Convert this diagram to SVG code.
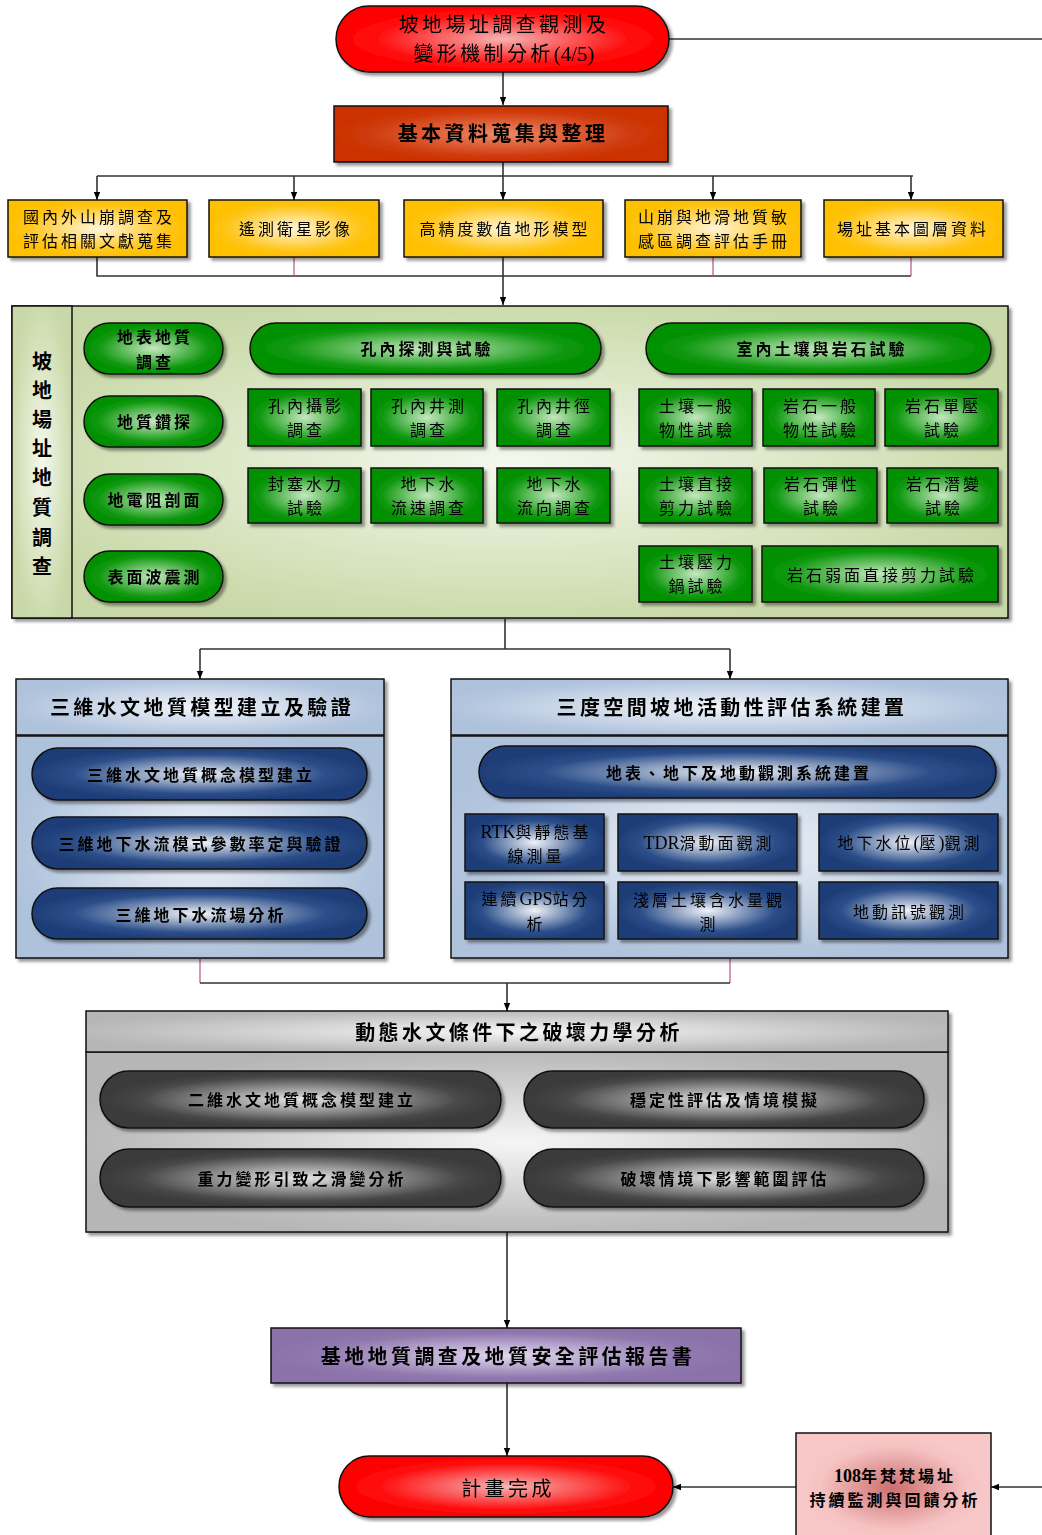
<svg xmlns="http://www.w3.org/2000/svg" width="1042" height="1535" viewBox="0 0 1042 1535">
<defs>
<filter id="sh" x="-10%" y="-10%" width="130%" height="140%"><feDropShadow dx="3" dy="3" stdDeviation="1.5" flood-color="#000" flood-opacity="0.4"/></filter>
<radialGradient id="gRed" cx="50%" cy="50%" r="50%"><stop offset="0" stop-color="#F6B4B4"/><stop offset="0.75" stop-color="#FF1010"/><stop offset="1" stop-color="#FF0000"/></radialGradient>
<radialGradient id="gOrange" cx="50%" cy="50%" r="50%"><stop offset="0" stop-color="#EE8A68"/><stop offset="0.8" stop-color="#CF3A0C"/><stop offset="1" stop-color="#CC3300"/></radialGradient>
<radialGradient id="gYellow" cx="50%" cy="50%" r="50%"><stop offset="0" stop-color="#FFF6DC"/><stop offset="0.8" stop-color="#FFC416"/><stop offset="1" stop-color="#FFC000"/></radialGradient>
<radialGradient id="gPanel" cx="50%" cy="50%" r="55%"><stop offset="0" stop-color="#F4F8EE"/><stop offset="0.85" stop-color="#CEDDB0"/><stop offset="1" stop-color="#C9D8A8"/></radialGradient>
<radialGradient id="gGreen" cx="50%" cy="50%" r="50%"><stop offset="0" stop-color="#C6E8C0"/><stop offset="0.8" stop-color="#0E980E"/><stop offset="1" stop-color="#009000"/></radialGradient>
<radialGradient id="gBluePanel" cx="50%" cy="50%" r="55%"><stop offset="0" stop-color="#F2F5FA"/><stop offset="0.85" stop-color="#B4C6DE"/><stop offset="1" stop-color="#AFC2DC"/></radialGradient>
<radialGradient id="gNavy" cx="50%" cy="50%" r="50%"><stop offset="0" stop-color="#F0F3F8"/><stop offset="0.75" stop-color="#2C4F8A"/><stop offset="1" stop-color="#1F3E78"/></radialGradient>
<radialGradient id="gGreyPanel" cx="50%" cy="50%" r="55%"><stop offset="0" stop-color="#F6F6F6"/><stop offset="0.85" stop-color="#BDBDBD"/><stop offset="1" stop-color="#B6B6B6"/></radialGradient>
<radialGradient id="gDark" cx="50%" cy="50%" r="50%"><stop offset="0" stop-color="#E6E6E6"/><stop offset="0.8" stop-color="#474747"/><stop offset="1" stop-color="#3A3A3A"/></radialGradient>
<radialGradient id="gPurple" cx="50%" cy="50%" r="50%"><stop offset="0" stop-color="#E2D8EE"/><stop offset="0.8" stop-color="#9079AE"/><stop offset="1" stop-color="#8B73AA"/></radialGradient>
<radialGradient id="gPink" cx="50%" cy="50%" r="50%"><stop offset="0" stop-color="#CC6E6E"/><stop offset="0.75" stop-color="#F6C2C2"/><stop offset="1" stop-color="#F8C8C8"/></radialGradient>
<marker id="arr" viewBox="0 0 10 8" refX="10" refY="4" markerWidth="8" markerHeight="9" markerUnits="userSpaceOnUse" orient="auto"><path d="M0,0 L10,4 L0,8 z" fill="#000"/></marker>
</defs>
<style>
text{font-family:"Liberation Serif","Noto Sans CJK TC",serif;fill:#000;text-anchor:middle;dominant-baseline:central}
.t16{font-size:16px;letter-spacing:3px}
.b16{font-size:16px;letter-spacing:3px;font-weight:bold}
.t20{font-size:20px;letter-spacing:3.4px}
.b20{font-size:20px;letter-spacing:3.4px;font-weight:bold}
.bv{font-size:20px;font-weight:bold}
.L{letter-spacing:0;font-size:18px}
.L20{letter-spacing:0;font-size:21px}
.n{stroke:#111;stroke-width:1.5}
.c{fill:none;stroke:#333;stroke-width:1.6}
.m{fill:none;stroke:#B8508A;stroke-width:1.2}
</style>
<rect width="1042" height="1535" fill="#fff"/>

<g id="connectors">
<path class="c" d="M669,39 H1042"/>
<path class="c" d="M503,72 V105" marker-end="url(#arr)"/>
<path class="c" d="M503,162 V176 M97,176 H913"/>
<path class="c" d="M97,176 V200" marker-end="url(#arr)"/>
<path class="c" d="M294,176 V200" marker-end="url(#arr)"/>
<path class="c" d="M503,176 V200" marker-end="url(#arr)"/>
<path class="c" d="M713,176 V200" marker-end="url(#arr)"/>
<path class="c" d="M911,176 V200" marker-end="url(#arr)"/>
<path class="c" d="M97,257 V276 H911 M503,257 V276"/>
<path class="m" d="M294,257 V276 M713,257 V276 M911,257 V276"/>
<path class="c" d="M503,276 V305" marker-end="url(#arr)"/>
<path class="c" d="M505,619 V649 H730 M505,649 H200"/>
<path class="c" d="M200,649 V679" marker-end="url(#arr)"/>
<path class="c" d="M730,649 V679" marker-end="url(#arr)"/>
<path class="m" d="M200,959 V983 M730,959 V983"/>
<path class="c" d="M200,983 H730"/>
<path class="c" d="M507,983 V1011" marker-end="url(#arr)"/>
<path class="c" d="M507,1232 V1328" marker-end="url(#arr)"/>
<path class="c" d="M507,1383 V1456" marker-end="url(#arr)"/>
<path class="c" d="M796,1487 H673" marker-end="url(#arr)"/>
<path class="c" d="M1042,1487 H991" marker-end="url(#arr)"/>
</g>

<g id="n-start" filter="url(#sh)">
<rect class="n" x="336" y="6" width="333" height="66" rx="33" fill="url(#gRed)"/>
<text class="t20" x="504" y="25">坡地場址調查觀測及</text>
<text class="t20" x="504" y="54">變形機制分析<tspan class="L20">(4/5)</tspan></text>
</g>

<g id="n-basic" filter="url(#sh)">
<rect class="n" x="334" y="106" width="334" height="56" fill="url(#gOrange)"/>
<text class="b20" x="503" y="134">基本資料蒐集與整理</text>
</g>

<g id="n-y1" filter="url(#sh)">
<rect class="n" x="8" y="200" width="179" height="57" fill="url(#gYellow)"/>
<text class="t16" x="99" y="217">國內外山崩調查及</text>
<text class="t16" x="99" y="241">評估相關文獻蒐集</text>
</g>
<g id="n-y2" filter="url(#sh)">
<rect class="n" x="209" y="200" width="170" height="57" fill="url(#gYellow)"/>
<text class="t16" x="296" y="229">遙測衛星影像</text>
</g>
<g id="n-y3" filter="url(#sh)">
<rect class="n" x="404" y="200" width="199" height="57" fill="url(#gYellow)"/>
<text class="t16" x="505" y="229">高精度數值地形模型</text>
</g>
<g id="n-y4" filter="url(#sh)">
<rect class="n" x="625" y="200" width="176" height="57" fill="url(#gYellow)"/>
<text class="t16" x="714" y="217">山崩與地滑地質敏</text>
<text class="t16" x="714" y="241">感區調查評估手冊</text>
</g>
<g id="n-y5" filter="url(#sh)">
<rect class="n" x="824" y="200" width="179" height="57" fill="url(#gYellow)"/>
<text class="t16" x="913" y="229">場址基本圖層資料</text>
</g>

<g id="n-geo-panel">
<rect class="n" x="12" y="306" width="996" height="312" fill="url(#gPanel)" filter="url(#sh)"/>
<rect class="n" x="12" y="306" width="60" height="312" fill="url(#gPanel)"/>
<text class="bv" x="42" y="362">坡</text>
<text class="bv" x="42" y="391">地</text>
<text class="bv" x="42" y="420">場</text>
<text class="bv" x="42" y="449">址</text>
<text class="bv" x="42" y="478">地</text>
<text class="bv" x="42" y="508">質</text>
<text class="bv" x="42" y="538">調</text>
<text class="bv" x="42" y="567">查</text>
</g>

<g id="n-gp1" filter="url(#sh)">
<rect class="n" x="84" y="323" width="139" height="51" rx="25.5" fill="url(#gGreen)"/>
<text class="b16" x="155" y="337">地表地質</text>
<text class="b16" x="155" y="362">調查</text>
</g>
<g id="n-gp2" filter="url(#sh)">
<rect class="n" x="84" y="396" width="139" height="51" rx="25.5" fill="url(#gGreen)"/>
<text class="b16" x="155" y="422">地質鑽探</text>
</g>
<g id="n-gp3" filter="url(#sh)">
<rect class="n" x="84" y="474" width="139" height="51" rx="25.5" fill="url(#gGreen)"/>
<text class="b16" x="155" y="500">地電阻剖面</text>
</g>
<g id="n-gp4" filter="url(#sh)">
<rect class="n" x="84" y="551" width="139" height="51" rx="25.5" fill="url(#gGreen)"/>
<text class="b16" x="155" y="577">表面波震測</text>
</g>
<g id="n-gp5" filter="url(#sh)">
<rect class="n" x="250" y="323" width="351" height="51" rx="25.5" fill="url(#gGreen)"/>
<text class="b16" x="427" y="349">孔內探測與試驗</text>
</g>
<g id="n-gp6" filter="url(#sh)">
<rect class="n" x="646" y="323" width="345" height="51" rx="25.5" fill="url(#gGreen)"/>
<text class="b16" x="822" y="349">室內土壤與岩石試驗</text>
</g>

<g id="n-g1" filter="url(#sh)"><rect class="n" x="248" y="389" width="113" height="57" fill="url(#gGreen)"/><text class="t16" x="306" y="406">孔內攝影</text><text class="t16" x="306" y="430">調查</text></g>
<g id="n-g2" filter="url(#sh)"><rect class="n" x="371" y="389" width="112" height="57" fill="url(#gGreen)"/><text class="t16" x="429" y="406">孔內井測</text><text class="t16" x="429" y="430">調查</text></g>
<g id="n-g3" filter="url(#sh)"><rect class="n" x="497" y="389" width="113" height="57" fill="url(#gGreen)"/><text class="t16" x="555" y="406">孔內井徑</text><text class="t16" x="555" y="430">調查</text></g>
<g id="n-g4" filter="url(#sh)"><rect class="n" x="639" y="389" width="113" height="57" fill="url(#gGreen)"/><text class="t16" x="697" y="406">土壤一般</text><text class="t16" x="697" y="430">物性試驗</text></g>
<g id="n-g5" filter="url(#sh)"><rect class="n" x="763" y="389" width="112" height="57" fill="url(#gGreen)"/><text class="t16" x="821" y="406">岩石一般</text><text class="t16" x="821" y="430">物性試驗</text></g>
<g id="n-g6" filter="url(#sh)"><rect class="n" x="885" y="389" width="113" height="57" fill="url(#gGreen)"/><text class="t16" x="943" y="406">岩石單壓</text><text class="t16" x="943" y="430">試驗</text></g>
<g id="n-g7" filter="url(#sh)"><rect class="n" x="248" y="468" width="113" height="55" fill="url(#gGreen)"/><text class="t16" x="306" y="484">封塞水力</text><text class="t16" x="306" y="508">試驗</text></g>
<g id="n-g8" filter="url(#sh)"><rect class="n" x="371" y="468" width="112" height="55" fill="url(#gGreen)"/><text class="t16" x="429" y="484">地下水</text><text class="t16" x="429" y="508">流速調查</text></g>
<g id="n-g9" filter="url(#sh)"><rect class="n" x="497" y="468" width="113" height="55" fill="url(#gGreen)"/><text class="t16" x="555" y="484">地下水</text><text class="t16" x="555" y="508">流向調查</text></g>
<g id="n-g10" filter="url(#sh)"><rect class="n" x="639" y="468" width="113" height="55" fill="url(#gGreen)"/><text class="t16" x="697" y="484">土壤直接</text><text class="t16" x="697" y="508">剪力試驗</text></g>
<g id="n-g11" filter="url(#sh)"><rect class="n" x="764" y="468" width="113" height="55" fill="url(#gGreen)"/><text class="t16" x="822" y="484">岩石彈性</text><text class="t16" x="822" y="508">試驗</text></g>
<g id="n-g12" filter="url(#sh)"><rect class="n" x="887" y="468" width="111" height="55" fill="url(#gGreen)"/><text class="t16" x="944" y="484">岩石潛變</text><text class="t16" x="944" y="508">試驗</text></g>
<g id="n-g13" filter="url(#sh)"><rect class="n" x="639" y="546" width="113" height="56" fill="url(#gGreen)"/><text class="t16" x="697" y="562">土壤壓力</text><text class="t16" x="697" y="586">鍋試驗</text></g>
<g id="n-g14" filter="url(#sh)"><rect class="n" x="762" y="546" width="236" height="56" fill="url(#gGreen)"/><text class="t16" x="882" y="575">岩石弱面直接剪力試驗</text></g>

<g id="n-3d-panel" filter="url(#sh)">
<rect class="n" x="16" y="736" width="368" height="222" fill="url(#gBluePanel)"/>
<rect class="n" x="16" y="679" width="368" height="56" fill="url(#gBluePanel)"/>
<text class="b20" x="202" y="708">三維水文地質模型建立及驗證</text>
</g>
<g id="n-bp1" filter="url(#sh)"><rect class="n" x="32" y="748" width="335" height="52" rx="26" fill="url(#gNavy)"/><text class="b16" x="201" y="775">三維水文地質概念模型建立</text></g>
<g id="n-bp2" filter="url(#sh)"><rect class="n" x="32" y="817" width="335" height="52" rx="26" fill="url(#gNavy)"/><text class="b16" x="201" y="844">三維地下水流模式參數率定與驗證</text></g>
<g id="n-bp3" filter="url(#sh)"><rect class="n" x="32" y="888" width="335" height="51" rx="25.5" fill="url(#gNavy)"/><text class="b16" x="201" y="915">三維地下水流場分析</text></g>

<g id="n-slope-panel" filter="url(#sh)">
<rect class="n" x="451" y="736" width="557" height="222" fill="url(#gBluePanel)"/>
<rect class="n" x="451" y="679" width="557" height="56" fill="url(#gBluePanel)"/>
<text class="b20" x="732" y="708">三度空間坡地活動性評估系統建置</text>
</g>
<g id="n-bp4" filter="url(#sh)"><rect class="n" x="479" y="746" width="517" height="52" rx="26" fill="url(#gNavy)"/><text class="b16" x="739" y="773">地表、地下及地動觀測系統建置</text></g>
<g id="n-b1" filter="url(#sh)"><rect class="n" x="465" y="814" width="139" height="57" fill="url(#gNavy)"/><text class="t16" x="536" y="832"><tspan class="L">RTK</tspan>與靜態基</text><text class="t16" x="536" y="856">線測量</text></g>
<g id="n-b2" filter="url(#sh)"><rect class="n" x="618" y="814" width="179" height="57" fill="url(#gNavy)"/><text class="t16" x="709" y="843"><tspan class="L">TDR</tspan>滑動面觀測</text></g>
<g id="n-b3" filter="url(#sh)"><rect class="n" x="819" y="814" width="179" height="57" fill="url(#gNavy)"/><text class="t16" x="910" y="843">地下水位<tspan class="L">(</tspan>壓<tspan class="L">)</tspan>觀測</text></g>
<g id="n-b4" filter="url(#sh)"><rect class="n" x="465" y="882" width="139" height="57" fill="url(#gNavy)"/><text class="t16" x="536" y="899">連續<tspan class="L">GPS</tspan>站分</text><text class="t16" x="536" y="924">析</text></g>
<g id="n-b5" filter="url(#sh)"><rect class="n" x="618" y="882" width="179" height="57" fill="url(#gNavy)"/><text class="t16" x="709" y="900">淺層土壤含水量觀</text><text class="t16" x="709" y="924">測</text></g>
<g id="n-b6" filter="url(#sh)"><rect class="n" x="819" y="882" width="179" height="57" fill="url(#gNavy)"/><text class="t16" x="910" y="912">地動訊號觀測</text></g>

<g id="n-failure-panel" filter="url(#sh)">
<rect class="n" x="86" y="1052" width="862" height="180" fill="url(#gGreyPanel)"/>
<rect class="n" x="86" y="1011" width="862" height="41" fill="url(#gGreyPanel)"/>
<text class="b20" x="519" y="1033">動態水文條件下之破壞力學分析</text>
</g>
<g id="n-d1" filter="url(#sh)"><rect class="n" x="100" y="1071" width="401" height="57" rx="28.5" fill="url(#gDark)"/><text class="b16" x="302" y="1100">二維水文地質概念模型建立</text></g>
<g id="n-d2" filter="url(#sh)"><rect class="n" x="524" y="1071" width="400" height="57" rx="28.5" fill="url(#gDark)"/><text class="b16" x="725" y="1100">穩定性評估及情境模擬</text></g>
<g id="n-d3" filter="url(#sh)"><rect class="n" x="100" y="1149" width="401" height="58" rx="29" fill="url(#gDark)"/><text class="b16" x="302" y="1179">重力變形引致之滑變分析</text></g>
<g id="n-d4" filter="url(#sh)"><rect class="n" x="524" y="1149" width="400" height="58" rx="29" fill="url(#gDark)"/><text class="b16" x="725" y="1179">破壞情境下影響範圍評估</text></g>

<g id="n-report" filter="url(#sh)">
<rect class="n" x="271" y="1328" width="470" height="55" fill="url(#gPurple)"/>
<text class="b20" x="508" y="1357">基地地質調查及地質安全評估報告書</text>
</g>

<g id="n-end" filter="url(#sh)">
<rect class="n" x="339" y="1456" width="334" height="61" rx="30.5" fill="url(#gRed)"/>
<text class="t20" x="508" y="1489">計畫完成</text>
</g>

<g id="n-monitor">
<rect class="n" x="796" y="1433" width="195" height="110" fill="url(#gPink)"/>
<text class="b16" x="895" y="1476"><tspan class="L" font-weight="bold">108</tspan>年梵梵場址</text>
<text class="b16" x="895" y="1500">持續監測與回饋分析</text>
</g>
</svg>
